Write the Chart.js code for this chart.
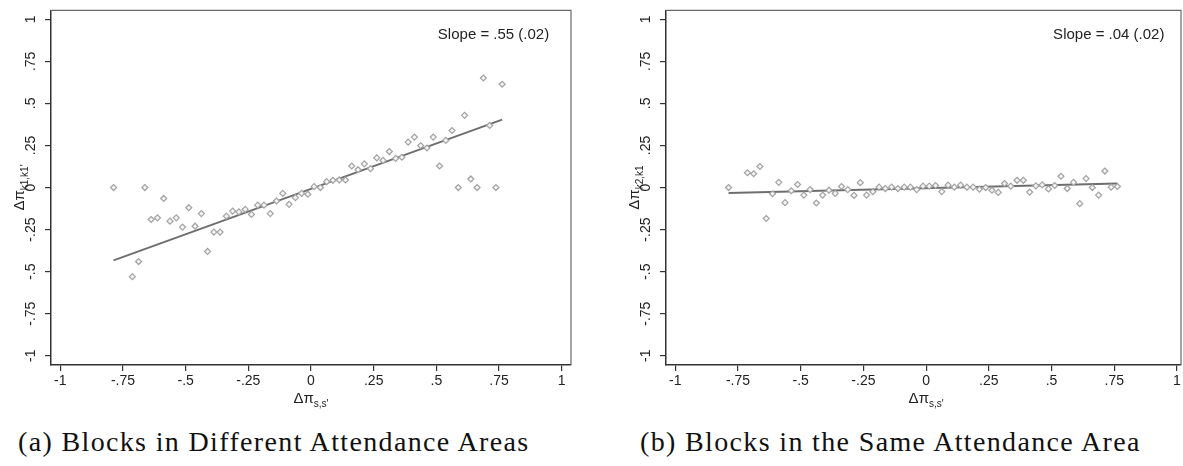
<!DOCTYPE html>
<html>
<head>
<meta charset="utf-8">
<script src="https://cdn.jsdelivr.net/npm/chart.js@4/dist/chart.umd.min.js"></script>
<style>
  body { margin: 0; background: #fff; width: 1183px; height: 466px; position: relative; overflow: hidden; }
  .panel { position: absolute; top: 0; height: 420px; }
  .caption { position: absolute; top: 426px; font-family: "Liberation Serif", serif; font-size: 28px; letter-spacing: 1.35px; color: #111; white-space: nowrap; }
</style>
</head>
<body>
<div class="panel" style="left:0;width:590px"><canvas id="chartA"></canvas></div>
<div class="panel" style="left:615px;width:568px"><canvas id="chartB"></canvas></div>
<div class="caption" style="left:18px">(a) Blocks in Different Attendance Areas</div>
<div class="caption" style="left:640px">(b) Blocks in the Same Attendance Area</div>
<script>
// bin midpoints of the school-share difference
var xBins = [-0.7875, -0.7125, -0.6875, -0.6625, -0.6375, -0.6125, -0.5875, -0.5625, -0.5375, -0.5125,
  -0.4875, -0.4625, -0.4375, -0.4125, -0.3875, -0.3625, -0.3375, -0.3125, -0.2875, -0.2625,
  -0.2375, -0.2125, -0.1875, -0.1625, -0.1375, -0.1125, -0.0875, -0.0625, -0.0375, -0.0125,
  0.0125, 0.0375, 0.0625, 0.0875, 0.1125, 0.1375, 0.1625, 0.1875, 0.2125, 0.2375,
  0.2625, 0.2875, 0.3125, 0.3375, 0.3625, 0.3875, 0.4125, 0.4375, 0.4625, 0.4875,
  0.5125, 0.5375, 0.5625, 0.5875, 0.6125, 0.6375, 0.6625, 0.6875, 0.7125, 0.7375, 0.7625];

// blocks in different attendance areas
var diffArea = [0, -0.53, -0.44, 0, -0.19, -0.18, -0.065, -0.2, -0.18, -0.235,
  -0.12, -0.23, -0.155, -0.38, -0.265, -0.265, -0.17, -0.14, -0.145, -0.13,
  -0.16, -0.105, -0.105, -0.155, -0.08, -0.035, -0.1, -0.06, -0.035, -0.04,
  0.005, 0, 0.035, 0.043, 0.045, 0.045, 0.128, 0.106, 0.141, 0.112,
  0.176, 0.161, 0.214, 0.173, 0.18, 0.27, 0.3, 0.249, 0.235, 0.3,
  0.128, 0.28, 0.339, 0, 0.429, 0.051, 0, 0.651, 0.369, 0, 0.614];

// blocks in the same attendance area
var sameArea = [0, 0.088, 0.082, 0.125, -0.184, -0.037, 0.031, -0.09, -0.019, 0.018,
  -0.045, -0.012, -0.092, -0.045, -0.016, -0.035, 0.006, -0.012, -0.047, 0.029,
  -0.045, -0.025, 0.002, -0.006, 0.002, -0.006, 0.002, 0.002, -0.012, 0.008,
  0.008, 0.012, -0.024, 0.014, 0.002, 0.014, 0.002, 0.002, -0.01, 0,
  -0.016, -0.029, 0.024, 0.008, 0.043, 0.043, -0.027, 0.01, 0.016, -0.008,
  0.012, 0.067, -0.006, 0.031, -0.096, 0.053, 0, -0.045, 0.098, 0.002, 0.006];

// fitted lines (end points)
var fitX = [-0.7875, 0.7625];
var diffFit = [-0.433, 0.404];
var sameFit = [-0.033, 0.024];

var tickVals = [-1, -0.75, -0.5, -0.25, 0, 0.25, 0.5, 0.75, 1];
var slopeText = ["Slope = .55 (.02)", "Slope = .04 (.02)"];

function fmt(v) {
  return String(v).replace("0.", ".");
}

function pairs(xs, ys) {
  return xs.map(function (x, i) { return { x: x, y: ys[i] }; });
}

// frame, axis titles and slope note
var extras = {
  id: "extras",
  afterDatasetsDraw: function (chart, args, opts) {
    var ctx = chart.ctx, a = chart.chartArea;
    var xs = chart.scales.x, ys = chart.scales.y;
    ctx.save();
    ctx.strokeStyle = "#6a6a6a";
    ctx.lineWidth = 1.2;
    ctx.beginPath();
    ctx.moveTo(a.left, a.top);
    ctx.lineTo(a.right, a.top);
    ctx.lineTo(a.right, a.bottom);
    ctx.stroke();

    ctx.fillStyle = "#222";
    ctx.font = "15px 'Liberation Sans', Arial";
    ctx.textAlign = "right";
    ctx.textBaseline = "middle";
    ctx.fillText(opts.slope, xs.getPixelForValue(0.95), ys.getPixelForValue(0.905));

    // x title
    drawSub(ctx, "Δπ", opts.xSub, xs.getPixelForValue(0), 398, 0);
    // y title, rotated
    drawSub(ctx, "Δπ", opts.ySub, 19, ys.getPixelForValue(0), -Math.PI / 2);
    ctx.restore();
  }
};

function drawSub(ctx, main, sub, cx, cy, rot) {
  ctx.save();
  ctx.translate(cx, cy);
  ctx.rotate(rot);
  ctx.textAlign = "left";
  ctx.textBaseline = "alphabetic";
  ctx.font = "15px 'Liberation Sans', Arial";
  var w1 = ctx.measureText(main).width;
  ctx.font = "10px 'Liberation Sans', Arial";
  var w2 = ctx.measureText(sub).width;
  var x0 = -(w1 + w2) / 2;
  ctx.fillStyle = "#222";
  ctx.font = "15px 'Liberation Sans', Arial";
  ctx.fillText(main, x0, 5);
  ctx.font = "10px 'Liberation Sans', Arial";
  ctx.fillText(sub, x0 + w1, 9);
  ctx.restore();
}

function makeChart(id, ys, fit, xMax, slope, ySub, rightPad) {
  var axisBase = {
    border: { display: true, color: "#333", width: 1.5 },
    grid: { display: true, drawOnChartArea: false, drawTicks: true, tickLength: 6, color: "#333", lineWidth: 1.2 },
    afterBuildTicks: function (s) { s.ticks = tickVals.map(function (v) { return { value: v }; }); }
  };
  new Chart(document.getElementById(id), {
    type: "scatter",
    data: {
      datasets: [{
        data: pairs(xBins, ys),
        pointStyle: "rectRot",
        pointRadius: 3,
        borderWidth: 1.2,
        borderColor: "#a2a2a2",
        backgroundColor: "#f4f4f4"
      }, {
        type: "line",
        data: pairs(fitX, fit),
        borderColor: "#6e6e6e",
        borderWidth: 2,
        pointRadius: 0,
        fill: false
      }]
    },
    options: {
      responsive: true,
      maintainAspectRatio: false,
      animation: false,
      layout: { autoPadding: false, padding: { top: 7, right: rightPad, left: 0, bottom: 0 } },
      plugins: {
        legend: { display: false },
        tooltip: { enabled: false },
        extras: { slope: slope, xSub: "s,s'", ySub: ySub }
      },
      scales: {
        x: Object.assign({}, axisBase, {
          type: "linear",
          min: -1.037,
          max: xMax,
          afterFit: function (s) { s.height = 55; },
          ticks: { padding: 2, color: "#222", font: { family: "'Liberation Sans', Arial", size: 14 }, maxRotation: 0, callback: fmt }
        }),
        y: Object.assign({}, axisBase, {
          type: "linear",
          min: -1.055,
          max: 1.053,
          afterFit: function (s) { s.width = 51; },
          ticks: { padding: 2, crossAlign: "center", minRotation: 90, maxRotation: 90, color: "#222", font: { family: "'Liberation Sans', Arial", size: 14 }, callback: fmt }
        })
      }
    },
    plugins: [extras]
  });
}

makeChart("chartA", diffArea, diffFit, 1.037, slopeText[0], "k1,k1'", 19);
makeChart("chartB", sameArea, sameFit, 1.016, slopeText[1], "k2,k1", 2);
</script>
</body>
</html>
